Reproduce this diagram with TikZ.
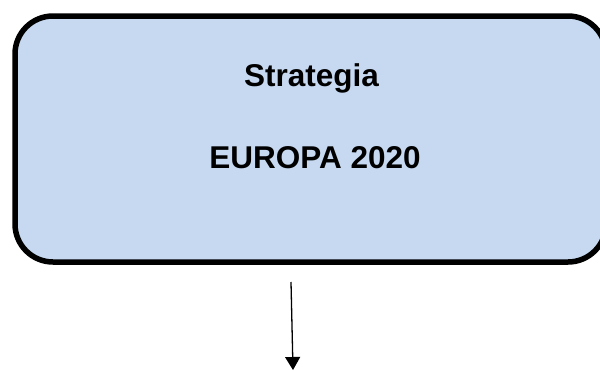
\documentclass[tikz,border=0pt]{standalone}
\usepackage{fontspec}
\setmainfont{Liberation Sans}
\usetikzlibrary{arrows.meta}
\definecolor{boxblue}{HTML}{C6D9F1}
\tikzset{
  roundbox/.style={draw=black, fill=boxblue, line width=5.5pt, rounded corners=38pt},
  title/.style={font=\fontsize{31.5}{36}\selectfont\bfseries, anchor=base, inner sep=0pt},
  arrowline/.style={line width=1.3pt, -{Triangle[width=15pt,length=13pt]}}
}
\begin{document}
\begin{tikzpicture}[x=1pt,y=-1pt]
\useasboundingbox (0,0) rectangle (600,370);
\draw[roundbox] (15,16) rectangle (606,262);
\node[title] (t1) at (311.5,86) {Strategia};
\node[title] (t2) at (315,168) {EUROPA 2020};
\coordinate (a1) at (291,282);
\coordinate (a2) at (293,370);
\draw[arrowline] (a1) -- (a2);
\end{tikzpicture}
\end{document}
